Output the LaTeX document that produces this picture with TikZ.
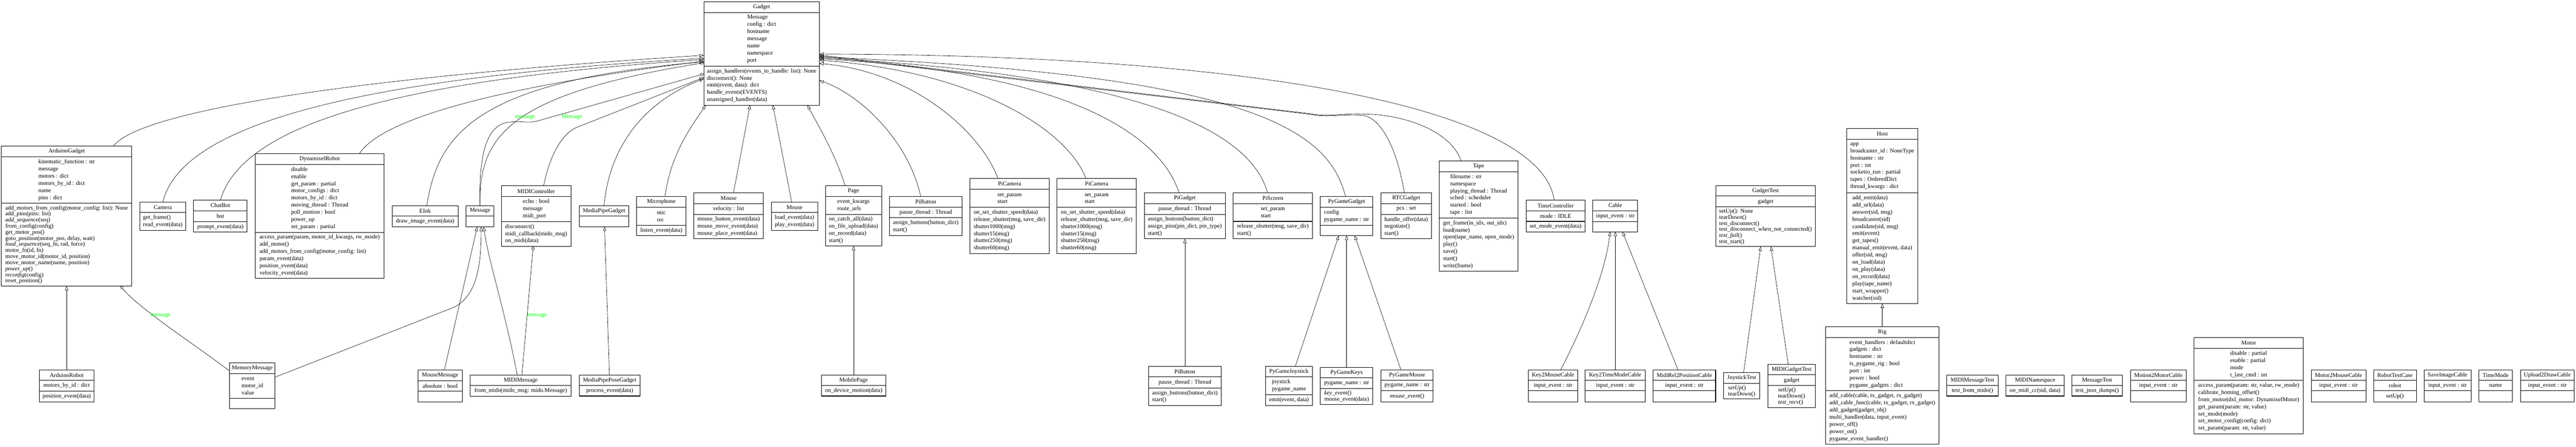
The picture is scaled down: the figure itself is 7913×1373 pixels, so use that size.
\documentclass[tikz,border=0pt]{standalone}
\usepackage{fontspec}
\setmainfont{Liberation Serif}
\usetikzlibrary{arrows.meta,fit}
\definecolor{lblgreen}{RGB}{0,255,0}
\tikzset{
  boxst/.style={draw=black, line width=0.8pt, inner sep=0pt, outer sep=0pt},
  sepst/.style={draw=black, line width=0.8pt},
  ttl/.style={inner sep=0pt, font=\fontsize{9}{11}\selectfont},
  txt/.style={inner sep=0pt, align=left, font=\fontsize{9}{11}\selectfont},
  tight/.style={font=\fontsize{9}{9.35}\selectfont},
  inh/.style={draw=black, line width=0.5pt, -{Triangle[open, length=6.5pt, width=5pt]}},
  agg/.style={draw=black, line width=0.5pt, -{Diamond[open, length=7pt, width=4.5pt]}},
  lbl/.style={inner sep=0pt, text=lblgreen, font=\fontsize{9}{11}\selectfont}
}
\newcommand\ubox[8]{%
  \def\bxa{#2}\def\bya{#3}\def\bxb{#4}\def\byb{#5}\def\bsa{#6}\def\bsb{#7}\def\bid{#1}%
  \node[boxst, fit={(#2,#3) (#4,#5)}] (#1) {};
  \draw[sepst] (#2,#6) -- (#4,#6);
  \ifx\relax#7\relax\else\draw[sepst] (#2,#7) -- (#4,#7);\fi
  \node[ttl] (#1-t) at ({(#2+#4)/2},{(#3+#6)/2}) {#8};
}
\newcommand\uattr[2][]{\node[txt,#1] (\bid-a) at ({(\bxa+\bxb)/2},{(\bsa+\bsb)/2}) {#2};}
\newcommand\umeth[2][]{\ifx\bsb\empty
  \node[txt,#1] (\bid-m) at ({(\bxa+\bxb)/2},{(\bsa+\byb)/2}) {#2};%
  \else
  \node[txt,#1] (\bid-m) at ({(\bxa+\bxb)/2},{(\bsb+\byb)/2}) {#2};%
  \fi}
\begin{document}
\begin{tikzpicture}[x=0.5pt, y=-0.5pt]
\useasboundingbox (0,0) rectangle (7913,1373);

% ---------------- boxes ----------------
\ubox{gadget}{2162}{6}{2517}{323}{38}{203}{Gadget}
\uattr{Message\\config : dict\\hostname\\message\\name\\namespace\\port}
\umeth{assign\_handlers(events\_to\_handle: list): None\\disconnect(): None\\emit(event, data): dict\\handle\_events(EVENTS)\\unassigned\_handler(data)}

\ubox{ardg}{4.5}{449}{405}{879}{482}{625}{ArduinoGadget}
\uattr{kinematic\_function : str\\message\\motors : dict\\motors\_by\_id : dict\\name\\pins : dict}
\umeth[tight]{add\_motors\_from\_config(motor\_config: list): None\\add\_pins(pins: list)\\\textit{add\_sequence}(seq)\\from\_config(config)\\get\_motor\_pos()\\goto\_position(motor\_pos, delay, wait)\\\textit{load\_sequence}(seq\_fn, rad, force)\\motor\_fn(id, fn)\\move\_motor\_id(motor\_id, position)\\move\_motor\_name(name, position)\\\textit{power\_up}()\\\textit{reconfig}(config)\\reset\_position()}

\ubox{ardr}{120.5}{1137}{289}{1235}{1169}{1202}{ArduinoRobot}
\uattr{motors\_by\_id : dict}
\umeth{position\_event(data)}

\ubox{camera}{429}{621}{571}{708}{653}{}{Camera}
\umeth{get\_frame()\\read\_event(data)}

\ubox{chatbot}{595}{615}{759}{713}{648}{681}{ChatBot}
\uattr{bot}
\umeth{prompt\_event(data)}

\ubox{dyn}{784}{472}{1180}{856}{505}{714}{DynamixelRobot}
\uattr{disable\\enable\\get\_param : partial\\motor\_configs : dict\\motors\_by\_id : dict\\moving\_thread : Thread\\poll\_motion : bool\\power\_up\\set\_param : partial}
\umeth{access\_param(param, motor\_id\_kwargs, rw\_mode)\\add\_motor()\\add\_motors\_from\_config(motor\_config: list)\\param\_event(data)\\position\_event(data)\\velocity\_event(data)}

\ubox{eink}{1205}{632}{1407}{697}{664}{}{EInk}
\umeth{draw\_image\_event(data)}

\ubox{message}{1432}{632}{1517}{697}{664}{}{Message}

\ubox{midic}{1540}{571}{1754}{757}{604}{681}{MIDIController}
\uattr{echo : bool\\message\\midi\_port}
\umeth{disconnect()\\midi\_callback(mido\_msg)\\on\_midi(data)}

\ubox{mpg}{1779.5}{632}{1931.5}{696.5}{664}{}{MediaPipeGadget}

\ubox{mic}{1956}{603}{2107}{724}{637}{692}{Microphone}
\uattr{mic\\rec}
\umeth{listen\_event(data)}

\ubox{mouse}{2131}{593}{2345}{734}{626}{659}{Mouse}
\uattr{velocity : list}
\umeth{mouse\_button\_event(data)\\mouse\_move\_event(data)\\mouse\_place\_event(data)}

\ubox{mouseb}{2369.5}{621}{2512}{708}{653}{}{Mouse}
\umeth{load\_event(data)\\play\_event(data)}

\ubox{page}{2535.5}{571}{2708}{756}{603}{659}{Page}
\uattr{event\_kwargs\\route\_urls}
\umeth{on\_catch\_all(data)\\on\_file\_upload(data)\\on\_record(data)\\start()}

\ubox{pibtn}{2732.5}{603}{2955}{724}{637}{669}{PiButton}
\uattr{pause\_thread : Thread}
\umeth{assign\_buttons(button\_dict)\\start()}

\ubox{picam}{2979.5}{549}{3222.6}{779}{581}{637}{PiCamera}
\uattr{set\_param\\start}
\umeth{on\_set\_shutter\_speed(data)\\release\_shutter(msg, save\_dir)\\shutter1000(msg)\\shutter15(msg)\\shutter250(msg)\\shutter60(msg)}

\ubox{picamb}{3247}{549}{3490.5}{779}{581}{637}{PiCamera}
\uattr{set\_param\\start}
\umeth{on\_set\_shutter\_speed(data)\\release\_shutter(msg, save\_dir)\\shutter1000(msg)\\shutter15(msg)\\shutter250(msg)\\shutter60(msg)}

\ubox{pig}{3515}{593}{3764}{734}{626}{659}{PiGadget}
\uattr{pause\_thread : Thread}
\umeth{assign\_buttons(button\_dict)\\assign\_pins(pin\_dict, pin\_type)\\start()}

\ubox{pibtnb}{3528.7}{1125.5}{3751}{1246}{1158}{1192}{PiButton}
\uattr{pause\_thread : Thread}
\umeth{assign\_buttons(button\_dict)\\start()}

\ubox{piscr}{3788.5}{593}{4031.6}{734}{626}{680.5}{PiScreen}
\uattr{set\_param\\start}
\umeth{release\_shutter(msg, save\_dir)\\start()}

\ubox{pyg}{4056}{603}{4217}{724}{637}{692}{PyGameGadget}
\uattr{config\\pygame\_name : str}

\ubox{rtc}{4242}{593}{4397}{734}{626}{659}{RTCGadget}
\uattr{pcs : set}
\umeth{handle\_offer(data)\\negotiate()\\start()}

\ubox{tape}{4421}{494}{4663}{833.5}{527}{670}{Tape}
\uattr{filename : str\\namespace\\playing\_thread : Thread\\sched : scheduler\\started : bool\\tape : list}
\umeth{get\_frame(in\_idx, out\_idx)\\load(name)\\open(tape\_name, open\_mode)\\play()\\save()\\start()\\write(frame)}

\ubox{timec}{4688}{615}{4869}{712.5}{648.6}{680.5}{TimeController}
\uattr{mode : IDLE}
\umeth{set\_mode\_event(data)}

\ubox{pyjoy}{3887}{1125.5}{4032}{1246}{1158}{1213}{PyGameJoystick}
\uattr{joystick\\pygame\_name}
\umeth{emit(event, data)}

\ubox{pykeys}{4056}{1129}{4217}{1242.6}{1161.5}{1194}{PyGameKeys}
\uattr{pygame\_name : str}
\umeth[tight]{\textit{key\_event}()\\mouse\_event(data)}

\ubox{pymouse}{4242}{1137}{4402.6}{1234.6}{1169.4}{1201}{PyGameMouse}
\uattr{pygame\_name : str}
\umeth{\textit{mouse\_event}()}

\ubox{k2m}{4694.6}{1137}{4846.6}{1234.6}{1169.4}{1201}{Key2MouseCable}
\uattr{input\_event : str}

\ubox{cable}{4893}{615}{5031}{712.5}{648}{681}{Cable}
\uattr{input\_event : str}

\ubox{k2t}{4869}{1137}{5054}{1234.6}{1169.4}{1201}{Key2TimeModeCable}
\uattr{input\_event : str}

\ubox{mr2p}{5078}{1137}{5270}{1234.6}{1169.4}{1201}{MidiRel2PositionCable}
\uattr{input\_event : str}

\ubox{gtest}{5270.5}{570}{5576.5}{757.7}{602.7}{636}{GadgetTest}
\uattr{gadget}
\umeth[tight]{setUp(): None\\tearDown()\\test\_disconnect()\\test\_disconnect\_when\_not\_connected()\\\textit{test\_fail}()\\test\_start()}

\ubox{joyt}{5294.6}{1145}{5405.8}{1226}{1178}{}{JoystickTest}
\umeth[tight]{\textit{setUp}()\\tearDown()}

\ubox{midigt}{5430.5}{1119.5}{5576.5}{1252}{1152}{1185}{MIDIGadgetTest}
\uattr{gadget}
\umeth[tight]{setUp()\\tearDown()\\\textit{test\_recv}()}

\ubox{host}{5673}{395}{5891}{933}{428.4}{592.7}{Host}
\uattr{app\\broadcaster\_id : NoneType\\hostname : str\\port : int\\socketio\_run : partial\\tapes : OrderedDict\\thread\_kwargs : dict}
\umeth{add\_emit(data)\\add\_url(data)\\answer(sid, msg)\\broadcaster(sid)\\candidate(sid, msg)\\emit(event)\\get\_tapes()\\manual\_emit(event, data)\\offer(sid, msg)\\on\_load(data)\\on\_play(data)\\on\_record(data)\\play(tape\_name)\\start\_wrapper()\\watcher(sid)}

\ubox{rig}{5608}{1004.5}{5956}{1365.6}{1037}{1200.7}{Rig}
\uattr{event\_handlers : defaultdict\\gadgets : dict\\hostname : str\\is\_pygame\_rig : bool\\port : int\\power : bool\\pygame\_gadgets : dict}
\umeth{add\_cable(cable, tx\_gadget, rx\_gadget)\\add\_cable\_func(cable, tx\_gadget, rx\_gadget)\\add\_gadget(gadget\_obj)\\multi\_handler(data, input\_event)\\power\_off()\\power\_on()\\pygame\_event\_handler()}

\ubox{midimt}{5980}{1153}{6138}{1217}{1185}{}{MIDIMessageTest}
\umeth{test\_from\_mido()}

\ubox{midins}{6162.5}{1153}{6340.6}{1217}{1185}{}{MIDINamespace}
\umeth{\textit{on\_midi\_cc}(sid, data)}

\ubox{msgt}{6364.7}{1153}{6519.4}{1217}{1185}{}{MessageTest}
\umeth{test\_json\_dumps()}

\ubox{m2mc}{6544}{1137}{6716}{1234.6}{1169.4}{1201}{Motion2MotorCable}
\uattr{input\_event : str}

\ubox{motor}{6739.7}{1037.7}{7075.3}{1333}{1070}{1168.7}{Motor}
\uattr{disable : partial\\enable : partial\\mode\\t\_last\_cmd : int}
\umeth{access\_param(param: str, value, rw\_mode)\\calibrate\_homing\_offset()\\from\_motor(dxl\_motor: DynamixelMotor)\\get\_param(param: str, value)\\set\_mode(mode)\\set\_motor\_config(config: dict)\\set\_param(param: str, value)}

\ubox{mo2ms}{7099.5}{1137}{7267.6}{1234.6}{1169.4}{1201}{Motor2MouseCable}
\uattr{input\_event : str}

\ubox{robtc}{7291}{1137}{7422.8}{1234.6}{1169.4}{1201}{RobotTestCase}
\uattr{robot}
\umeth{setUp()}

\ubox{sic}{7446.4}{1137}{7590.3}{1234.6}{1169.4}{1201}{SaveImageCable}
\uattr{input\_event : str}

\ubox{tmode}{7614.5}{1137}{7717.5}{1234.6}{1169.4}{1201}{TimeMode}
\uattr{name}

\ubox{u2d}{7742.4}{1137}{7907.4}{1234.6}{1169.4}{1201}{Upload2DrawCable}
\uattr{input\_event : str}

\ubox{memmsg}{705}{1115}{845}{1256}{1148}{1224}{MemoryMessage}
\uattr{event\\motor\_id\\value}

\ubox{mousemsg}{1284}{1137}{1420}{1235}{1170}{1202}{MouseMessage}
\uattr{absolute : bool}

\ubox{midimsg}{1444}{1153}{1755}{1218}{1185}{}{MIDIMessage}
\umeth{from\_mido(mido\_msg: mido.Message)}

\ubox{mppg}{1779.5}{1153}{1966}{1217}{1185}{}{MediaPipePoseGadget}
\umeth{process\_event(data)}

\ubox{mobile}{2523.5}{1153}{2721}{1217}{1185}{}{MobilePage}
\umeth{on\_device\_motion(data)}

% ---------------- connectors to Gadget (left side) ----------------
\draw[inh] (ardg.north -| 348,0) .. controls (440,330) and (1200,230) .. (gadget.west |- 0,170);
\draw[inh] (camera.north) .. controls (560,380) and (1100,240) .. (gadget.west |- 0,179);
\draw[inh] (chatbot.north) .. controls (740,400) and (1150,250) .. (gadget.west |- 0,183);
\draw[inh] (dyn.north -| 1104,0) .. controls (1170,370) and (1500,270) .. (gadget.west |- 0,188);
\draw[inh] (eink.north -| 1311,0) .. controls (1345,420) and (1450,250) .. (gadget.west |- 0,190);
\draw[agg] (message.north) .. controls (1470,420) and (1560,290) .. (gadget.west |- 0,193);
\draw[agg] (message.north) .. controls (1470,460) and (1500,385) .. (1560,376) .. controls (1600,370) and (1620,380) .. (1650,372) -- (gadget.west |- 0,227);
\node[lbl] (lblmsga) at (1613,360) {message};
\node[lbl] (lblmsgb) at (1757,360) {Message};
\draw[inh] (midic.north -| 1670,0) .. controls (1690,470) and (1730,410) .. (1770,392) -- (gadget.west |- 0,238);
\draw[inh] (mpg.north) .. controls (1870,470) and (1960,320) .. (gadget.west |- 0,242);
% bottom side
\draw[inh] (mic.north -| 2043,0) .. controls (2060,470) and (2130,380) .. (gadget.south -| 2168,0);
\draw[inh] (mouse.north -| 2253,0) -- (gadget.south -| 2304,0);
\draw[inh] (mouseb.north -| 2432,0) -- (gadget.south -| 2374,0);
\draw[inh] (page.north -| 2596,0) .. controls (2565,470) and (2510,380) .. (gadget.south -| 2480,0);
% right side
\draw[inh] (pibtn.north -| 2828,0) .. controls (2790,430) and (2640,290) .. (gadget.east |- 0,247);
\draw[inh] (picam.north -| 3066,0) .. controls (3010,400) and (2800,220) .. (gadget.east |- 0,195);
\draw[inh] (picamb.north -| 3336,0) .. controls (3280,400) and (3000,220) .. (gadget.east |- 0,185);
\draw[inh] (pig.north -| 3622,0) .. controls (3560,400) and (3250,220) .. (gadget.east |- 0,181);
\draw[inh] (piscr.north -| 3894,0) .. controls (3840,400) and (3500,230) .. (gadget.east |- 0,178);
\draw[inh] (pyg.north -| 4133,0) .. controls (4080,400) and (3850,230) .. (gadget.east |- 0,175);
\draw[inh] (rtc.north -| 4314,0) .. controls (4290,450) and (4240,360) .. (4184,354) .. controls (4120,350) and (4080,362) .. (4030,352) -- (gadget.east |- 0,172);
\draw[inh] (tape.north -| 4488,0) .. controls (4460,410) and (4330,352) .. (4184,350) .. controls (4120,348) and (4080,360) .. (4030,350) -- (gadget.east |- 0,169);
\draw[inh] (timec.north -| 4774,0) .. controls (4740,360) and (4000,170) .. (gadget.east |- 0,166);

% ---------------- lower connectors ----------------
\draw[inh] (ardr.north) -- (ardg.south -| ardr.north);
\draw[agg] (memmsg.west |- 0,1140) .. controls (600,1060) and (430,950) .. (ardg.south -| 370,0);
\node[lbl] (lblmsgc) at (493,970) {message};
\draw[inh] (memmsg.east |- 0,1159) -- (1390,946) .. controls (1470,912) and (1478,800) .. (message.south -| 1478,0);
\draw[inh] (mousemsg.north -| 1365,0) -- (message.south -| 1466,0);
\draw[inh] (midimsg.north -| 1589,0) .. controls (1550,950) and (1500,800) .. (message.south -| 1486,0);
\draw[agg] (midimsg.north -| 1603,0) -- (midic.south -| 1638,0);
\node[lbl] (lblmsgd) at (1650,970) {message};
\draw[inh] (mppg.north -| 1872,0) -- (mpg.south -| 1857,0);
\draw[inh] (mobile.north) -- (page.south -| mobile.north);
\draw[inh] (pibtnb.north) -- (pig.south -| pibtnb.north);
\draw[inh] (pyjoy.north -| 3979,0) -- (pyg.south -| 4112.6,0);
\draw[inh] (pykeys.north) -- (pyg.south -| pykeys.north);
\draw[inh] (pymouse.north -| 4303.5,0) -- (pyg.south -| 4161.5,0);
\draw[inh] (k2m.north -| 4793.7,0) .. controls (4850,1030) and (4930,850) .. (cable.south -| 4946,0);
\draw[inh] (k2t.north -| 4962,0) -- (cable.south -| 4962,0);
\draw[inh] (mr2p.north -| 5154.6,0) -- (cable.south -| 4984,0);
\draw[inh] (joyt.north -| 5356,0) -- (gtest.south -| 5408.5,0);
\draw[inh] (midigt.north -| 5493,0) -- (gtest.south -| 5440,0);
\draw[inh] (rig.north) -- (host.south -| rig.north);
\end{tikzpicture}
\end{document}
